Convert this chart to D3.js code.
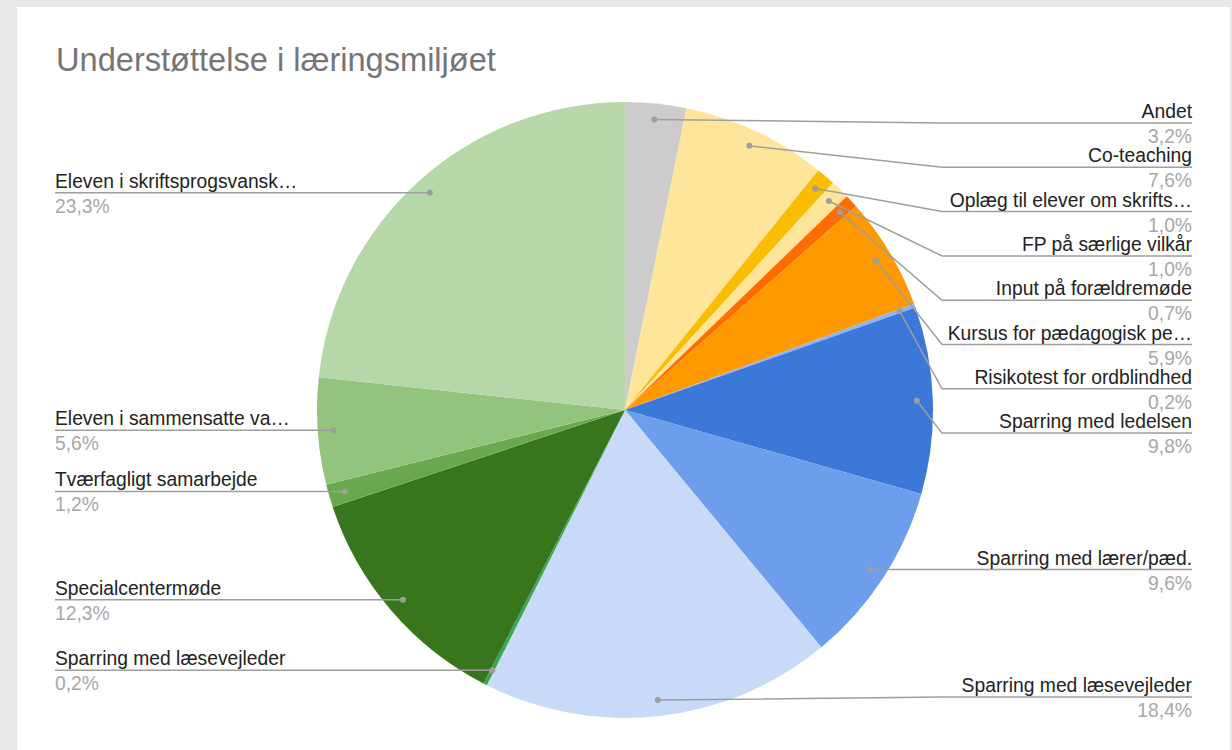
<!DOCTYPE html>
<html>
<head>
<meta charset="utf-8">
<script src="https://cdn.jsdelivr.net/npm/d3@7"></script>
<style>
  body { margin: 0; background: #e8e8e8; }
  svg { display: block; }
  text { font-family: Arial, "Liberation Sans", sans-serif; }
</style>
</head>
<body>
<script>
// data
var categories = [
  "Andet", "Co-teaching", "Oplæg til elever om skrifts…", "FP på særlige vilkår",
  "Input på forældremøde", "Kursus for pædagogisk pe…", "Risikotest for ordblindhed",
  "Sparring med ledelsen", "Sparring med lærer/pæd.", "Sparring med læsevejleder",
  "Sparring med læsevejleder", "Specialcentermøde", "Tværfagligt samarbejde",
  "Eleven i sammensatte va…", "Eleven i skriftsprogsvansk…"
];
var values = [3.2, 7.6, 1.0, 1.0, 0.7, 5.9, 0.2, 9.8, 9.6, 18.4, 0.2, 12.3, 1.2, 5.6, 23.3];
var valueLabels = ["3,2%", "7,6%", "1,0%", "1,0%", "0,7%", "5,9%", "0,2%", "9,8%", "9,6%",
  "18,4%", "0,2%", "12,3%", "1,2%", "5,6%", "23,3%"];

// slice colours
var colors = ["#cccccc", "#ffe599", "#fbbc04", "#ffe599", "#ff6d01", "#ff9900", "#8ab4f8",
  "#3c78d8", "#6d9eeb", "#c9daf8", "#34a853", "#38761d", "#6aa84f", "#93c47d", "#b6d7a8"];

var width = 1232, height = 750;
var cx = 625, cy = 410, radius = 308;
var dotR = radius * 0.948;
var gap = 44.3, topY = 123, bottomY = 697;
var rightX = 1192, leftX = 55;
var fontSize = 19.3;

var data = categories.map(function(c, i) {
  return {name: c, value: values[i], label: valueLabels[i], color: colors[i]};
});

var svg = d3.select("body").append("svg")
    .attr("width", width)
    .attr("height", height);

// white card
svg.append("rect")
    .attr("x", 17).attr("y", 7)
    .attr("width", 1213).attr("height", height - 7)
    .attr("fill", "#fff");

svg.append("text")
    .attr("x", 56).attr("y", 71)
    .attr("font-size", 32.6)
    .attr("fill", "#757575")
    .text("Understøttelse i læringsmiljøet");

var pie = d3.pie()
    .sort(null)
    .value(function(d) { return d.value; });

var arc = d3.arc().innerRadius(0).outerRadius(radius);
var dotArc = d3.arc().innerRadius(dotR).outerRadius(dotR);

var arcs = pie(data);

var g = svg.append("g")
    .attr("transform", "translate(" + cx + "," + cy + ")");

g.selectAll("path")
    .data(arcs)
  .enter().append("path")
    .attr("d", arc)
    .attr("fill", function(d) { return d.data.color; });

// label layout: start at the dot, push apart, keep inside the chart area
arcs.forEach(function(d) {
  var c = dotArc.centroid(d);
  d.dot = [cx + c[0], cy + c[1]];
  d.right = (d.startAngle + d.endAngle) / 2 < Math.PI;
});

var right = arcs.filter(function(d) { return d.right; });
var left = arcs.filter(function(d) { return !d.right; });

right.forEach(function(d, i) {
  d.ly = Math.max(d.dot[1], topY, i ? right[i - 1].ly + gap : topY);
});
for (var i = right.length - 1; i >= 0; i--) {
  right[i].ly = Math.min(right[i].ly, bottomY, i < right.length - 1 ? right[i + 1].ly - gap : bottomY);
}
left.forEach(function(d, i) {
  d.ly = Math.min(d.dot[1], bottomY, i ? left[i - 1].ly - gap : bottomY);
});
for (var j = left.length - 1; j >= 0; j--) {
  left[j].ly = Math.max(left[j].ly, topY, j < left.length - 1 ? left[j + 1].ly + gap : topY);
}

var labels = svg.append("g").selectAll("g")
    .data(arcs)
  .enter().append("g");

labels.append("polyline")
    .attr("fill", "none")
    .attr("stroke", "#9e9e9e")
    .attr("stroke-width", 1.5)
    .attr("points", function(d) {
      var ex = d.right ? cx + radius + 9 : cx - radius - 9;
      var end = d.right ? rightX : leftX;
      return [d.dot, [ex, d.ly], [end, d.ly]].join(" ");
    });

labels.append("circle")
    .attr("cx", function(d) { return d.dot[0]; })
    .attr("cy", function(d) { return d.dot[1]; })
    .attr("r", 3)
    .attr("fill", "#9e9e9e");

labels.append("text")
    .attr("x", function(d) { return d.right ? rightX : leftX; })
    .attr("y", function(d) { return d.ly - 5; })
    .attr("text-anchor", function(d) { return d.right ? "end" : "start"; })
    .attr("font-size", fontSize)
    .attr("fill", "#222")
    .text(function(d) { return d.data.name; });

labels.append("text")
    .attr("x", function(d) { return d.right ? rightX : leftX; })
    .attr("y", function(d) { return d.ly + 20; })
    .attr("text-anchor", function(d) { return d.right ? "end" : "start"; })
    .attr("font-size", fontSize)
    .attr("fill", "#a8a8a8")
    .text(function(d) { return d.data.label; });
</script>
</body>
</html>
